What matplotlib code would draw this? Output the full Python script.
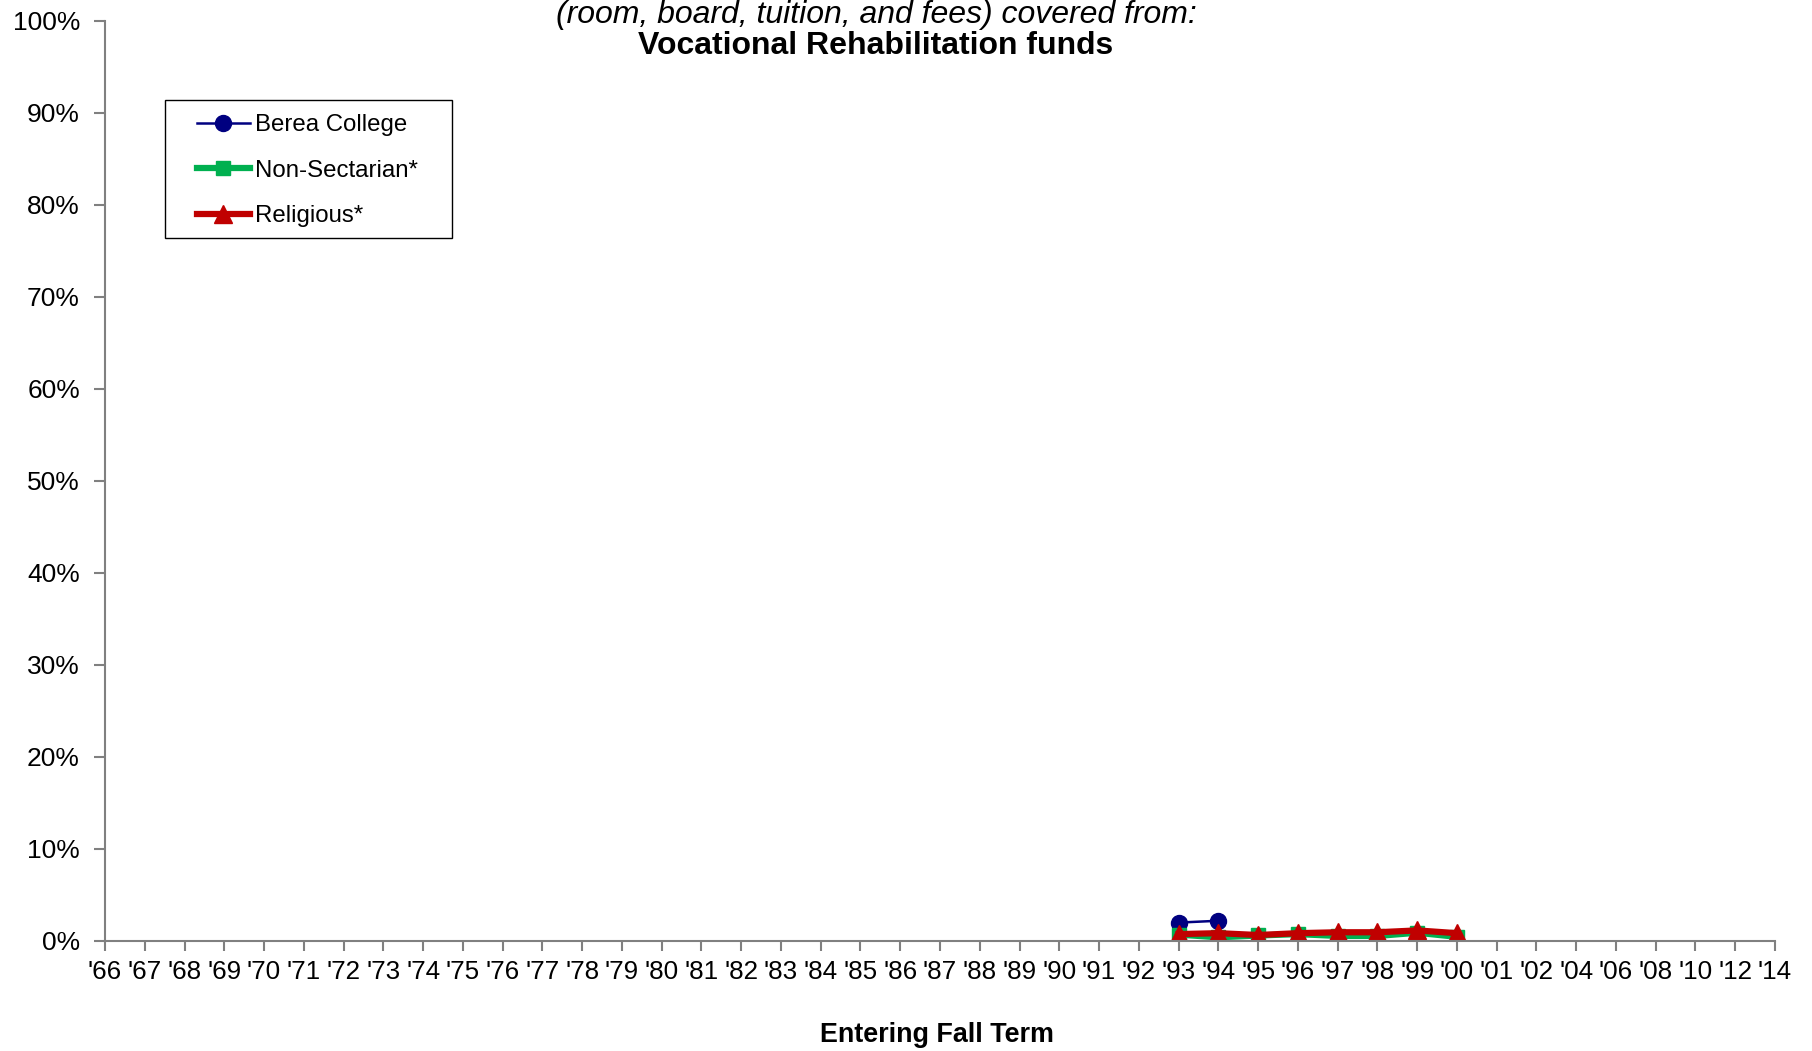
import matplotlib.pyplot as plt
from matplotlib.patches import Rectangle
import numpy as np

plt.rcParams['font.family'] = ['Liberation Sans', 'DejaVu Sans']

years = ["'66", "'67", "'68", "'69", "'70", "'71", "'72", "'73", "'74", "'75",
         "'76", "'77", "'78", "'79", "'80", "'81", "'82", "'83", "'84", "'85",
         "'86", "'87", "'88", "'89", "'90", "'91", "'92", "'93", "'94", "'95",
         "'96", "'97", "'98", "'99", "'00", "'01", "'02", "'04", "'06", "'08",
         "'10", "'12", "'14"]

# percent of total cost covered, only '93-'00 reported
berea_years = ["'93", "'94"]
berea_vals = [2.0, 2.2]
nonsect_years = ["'93", "'94", "'95", "'96", "'97", "'98", "'99", "'00"]
nonsect_vals = [0.7, 0.4, 0.6, 0.75, 0.55, 0.55, 0.9, 0.45]
relig_years = ["'93", "'94", "'95", "'96", "'97", "'98", "'99", "'00"]
relig_vals = [0.75, 0.85, 0.65, 0.85, 0.95, 0.95, 1.15, 0.85]


def series(labels, vals):
    out = np.full(len(years), np.nan)
    for lab, v in zip(labels, vals):
        out[years.index(lab)] = v
    return out


x = np.arange(len(years))
W, H = 1812, 1051

fig = plt.figure(figsize=(W / 100, H / 100), dpi=100)
ax = fig.add_axes([105 / W, 1 - 941 / H, 1670 / W, 920 / H])

ax.plot(x, series(berea_years, berea_vals), color='#000080', lw=1.8,
        marker='o', ms=11.5, label='Berea College')
ax.plot(x, series(nonsect_years, nonsect_vals), color='#00B050', lw=4.5,
        marker='s', ms=10.5, label='Non-Sectarian*')
ax.plot(x, series(relig_years, relig_vals), color='#C00000', lw=4.5,
        marker='^', ms=12.5, label='Religious*')

ax.set_xlim(0, len(years) - 1)
ax.set_ylim(0, 100)
ax.set_xticks(x)
ax.set_xticklabels(years, fontsize=18.7)
ax.set_yticks(np.arange(0, 101, 10))
ax.set_yticklabels([f'{v}%' for v in range(0, 101, 10)], fontsize=19)

for side in ['top', 'right']:
    ax.spines[side].set_visible(False)
for side in ['left', 'bottom']:
    ax.spines[side].set_color('#808080')
    ax.spines[side].set_linewidth(1.5)
ax.tick_params(axis='y', direction='out', length=8, width=1.5, color='#808080', pad=10)
ax.tick_params(axis='x', direction='out', length=7, width=1.5, color='#808080', pad=7)

fig.text(876 / W, 1 - 15 / H, '(room, board, tuition, and fees) covered from:',
         ha='center', va='center', fontsize=23, style='italic')
fig.text(876 / W, 1 - 46 / H, 'Vocational Rehabilitation funds',
         ha='center', va='center', fontsize=23, weight='bold')
fig.text(937 / W, 1 - 1035 / H, 'Entering Fall Term',
         ha='center', va='center', fontsize=19.4, weight='bold')

leg = ax.legend(loc='upper left', bbox_to_anchor=(197 / W, 1 - 114 / H),
                bbox_transform=fig.transFigure, fontsize=17.3, frameon=False,
                handlelength=2.2, labelspacing=0.98, borderpad=0,
                handletextpad=0.2, borderaxespad=0)
fig.patches.append(Rectangle((165 / W, 1 - 238 / H), 287 / W, 138 / H,
                             transform=fig.transFigure, fill=False,
                             edgecolor='black', lw=1.0))

fig.savefig('out.png', dpi=100)
